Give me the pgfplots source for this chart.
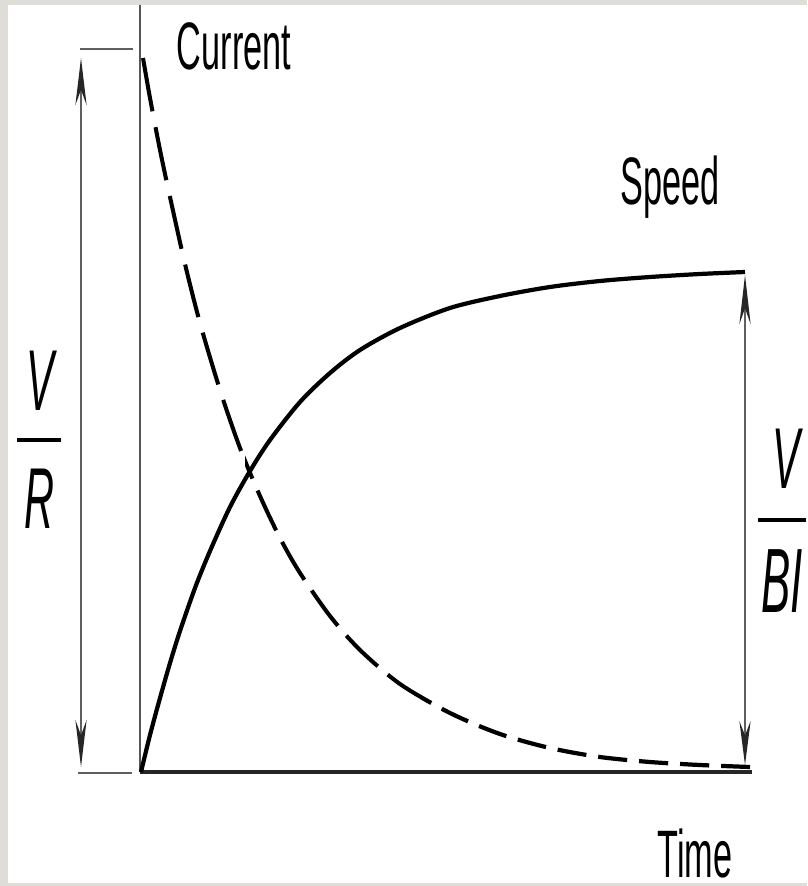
\documentclass[border=0pt]{standalone}
\usepackage{pgfplots}
\pgfplotsset{compat=1.18}
\usetikzlibrary{arrows.meta}
\usepackage{fontspec}
\setmainfont{Liberation Sans}
\newfontfamily\cond[FakeStretch=0.51]{Liberation Sans}
\newfontfamily\condit[FakeStretch=0.48]{Liberation Sans Italic}
\definecolor{bggray}{RGB}{222,221,216}
\definecolor{axgray}{RGB}{85,85,85}
\definecolor{arrgray}{RGB}{95,95,95}
\pgfplotstableread{
x y
143 58
150 98
160 150
170 197
185 264
200 323
220 390
240 448
260 496
280 538
300 573
330 616
360 650
400 684
450 713
500 734
550 748
600 757
650 762
700 765
750 767
}\currentdata
\pgfplotstableread{
x y
141 772
150 735
160 698
170 663
180 631
195 588
210 551
230 507
250 471
270 440
300 402
330 373
360 350
400 328
450 308
500 296
550 287
600 281
650 277
700 274
745 272
}\speeddata
\begin{document}
\begin{tikzpicture}
\begin{axis}[
  width=8.07cm, height=8.86cm, scale only axis,
  xmin=0, xmax=807, ymin=0, ymax=886, y dir=reverse,
  axis lines=none, clip=false,
]
% background frame
\fill[bggray] (axis cs:0,0) rectangle (axis cs:807,886);
\fill[white] (axis cs:8,5) rectangle (axis cs:807,883);

% axes drawn as data lines
\addplot[axgray, line width=0.7pt, no marks] coordinates {(140,5) (140,772)};
\addplot[black!85, line width=1.15pt, no marks] coordinates {(140,772) (752,772)};

% Current (dashed): same curve, dash length varies along it
\begin{scope}
\clip (axis cs:130,40) rectangle (axis cs:245,800);
\addplot[black, line width=1.15pt, no marks, smooth, dash pattern=on 15.4pt off 4.6pt] table {\currentdata};
\end{scope}
\begin{scope}
\clip (axis cs:245,40) rectangle (axis cs:420,800);
\addplot[black, line width=1.15pt, no marks, smooth, dash pattern=on 12.5pt off 3.7pt, dash phase=2pt] table {\currentdata};
\end{scope}
\begin{scope}
\clip (axis cs:420,40) rectangle (axis cs:760,800);
\addplot[black, line width=1.2pt, no marks, smooth, dash pattern=on 8.3pt off 3.4pt] table {\currentdata};
\end{scope}

% Speed (solid)
\addplot[black, line width=1.2pt, no marks, smooth] table {\speeddata};

% reference ticks and dimension arrows
\addplot[arrgray, line width=0.6pt, no marks] coordinates {(80,49) (133,49)};
\addplot[arrgray, line width=0.6pt, no marks] coordinates {(78,773) (132,773)};
\addplot[arrgray, line width=0.45pt, no marks,
  {Stealth[length=13.4pt,width=3.2pt,color=black!85]}-{Stealth[length=13.4pt,width=3.2pt,color=black!85]}]
  coordinates {(81,58) (81,767)};
\addplot[arrgray, line width=0.45pt, no marks,
  {Stealth[length=14pt,width=3.2pt,color=black!85]}-{Stealth[length=12.5pt,width=3.2pt,color=black!85]}]
  coordinates {(745,275) (745,765)};

% labels
\node[anchor=base, inner sep=0pt] at (axis cs:234,70) {\cond\fontsize{19.1pt}{21pt}\selectfont Current};
\node[anchor=base, inner sep=0pt] at (axis cs:670,205) {\cond\fontsize{19.1pt}{21pt}\selectfont Speed};
\node[anchor=base, inner sep=0pt] at (axis cs:695,877) {\cond\fontsize{19.1pt}{21pt}\selectfont Time};

% V/R
\node[anchor=base, inner sep=0pt] at (axis cs:40,410) {\condit\fontsize{24.6pt}{26pt}\selectfont V};
\draw[black, line width=0.9pt] (axis cs:17,440) -- (axis cs:61,440);
\node[anchor=base, inner sep=0pt] at (axis cs:39,528) {\condit\fontsize{24.6pt}{26pt}\selectfont R};

% V/BI
\node[anchor=base, inner sep=0pt] at (axis cs:786,488) {\condit\fontsize{24.6pt}{26pt}\selectfont V};
\draw[black, line width=0.9pt] (axis cs:758,520) -- (axis cs:806,520);
\node[anchor=base, inner sep=0pt] at (axis cs:782,612) {\condit\fontsize{26pt}{28pt}\selectfont BI};
\end{axis}
\end{tikzpicture}
\end{document}
